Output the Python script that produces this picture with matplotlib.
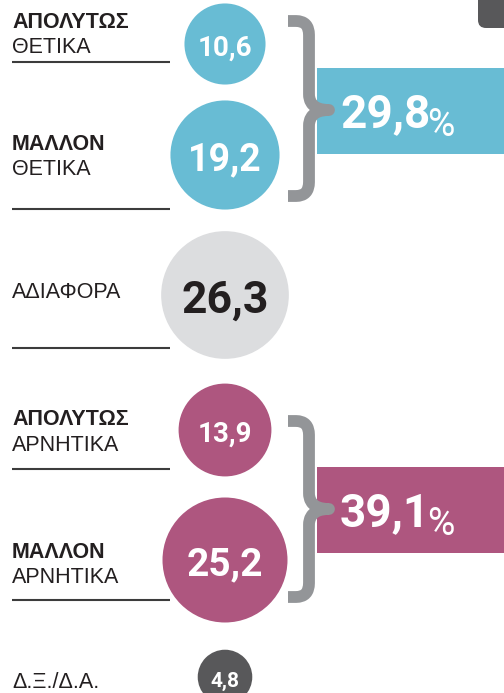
import numpy as np
import matplotlib
matplotlib.use("Agg")
import matplotlib.pyplot as plt
from matplotlib.patches import Circle, Rectangle, FancyBboxPatch, PathPatch
from matplotlib.path import Path

# data
labels_bold = ["ΑΠΟΛΥΤΩΣ", "ΜΑΛΛΟΝ", "", "ΑΠΟΛΥΤΩΣ", "ΜΑΛΛΟΝ", ""]
labels_rest = ["ΘΕΤΙΚΑ", "ΘΕΤΙΚΑ", "ΑΔΙΑΦΟΡΑ", "ΑΡΝΗΤΙΚΑ", "ΑΡΝΗΤΙΚΑ", "Δ.Ξ./Δ.Α."]
values = [10.6, 19.2, 26.3, 13.9, 25.2, 4.8]
group_totals = [29.8, 39.1]

BLUE = "#68bcd4"
MAGENTA = "#ae567f"
LIGHT = "#dcdddf"
DARK = "#58585a"
BRACE = "#939598"
INK = "#231f20"

circle_fill = [BLUE, BLUE, LIGHT, MAGENTA, MAGENTA, DARK]
num_color = ["white", "white", INK, "white", "white", "white"]
num_size = [20, 27, 32, 20, 28, 15]
cy = [44, 155, 295, 430, 560, 677]      # circle centres (px)
label_base = [(28, 53), (150, 175), (None, 298), (425, 451), (558, 583), (None, 688)]
rule_y = [62, 209, 348, 469, 600, None]
cx = 225
k = 155.0   # area scale, px^2 per percentage point

fig = plt.figure(figsize=(5.04, 6.93), dpi=100)
ax = fig.add_axes([0, 0, 1, 1])
ax.set_xlim(0, 504)
ax.set_ylim(693, 0)
ax.axis("off")

LAB = ["Liberation Sans", "DejaVu Sans"]
NUM = ["Roboto", "DejaVu Sans"]

def fmt(v):
    return "{:.1f}".format(v).replace(".", ",")

for i, v in enumerate(values):
    r = np.sqrt(v * k)
    ax.add_patch(Circle((cx, cy[i]), r, facecolor=circle_fill[i], edgecolor="none", zorder=2))
    cap = num_size[i] * 100 / 72 * 0.711
    ax.text(cx, cy[i] + cap / 2 + 2, fmt(v), ha="center", va="baseline",
            fontsize=num_size[i], fontweight="bold", color=num_color[i],
            family=NUM, zorder=3)

    b1, b2 = label_base[i]
    if labels_bold[i]:
        ax.text(12, b1, labels_bold[i], ha="left", va="baseline",
                fontsize=15.5, fontweight="bold", color=INK, family=LAB)
    ax.text(12, b2, labels_rest[i], ha="left", va="baseline",
            fontsize=15.5, color=INK, family=LAB)
    if rule_y[i] is not None:
        ax.plot([12, 170], [rule_y[i], rule_y[i]], color="#3c3c3c", lw=1.5,
                solid_capstyle="butt", zorder=1)


def brace(ytop, ybot, ymid):
    x0, xv, xt = 288, 309, 329
    verts = [(x0, ytop), (x0 + 8, ytop),
             (xv, ytop), (xv, ytop + 14),
             (xv, ymid - 16),
             (xv, ymid - 2), (xt - 8, ymid), (xt, ymid),
             (xt - 8, ymid), (xv, ymid + 2), (xv, ymid + 16),
             (xv, ybot - 14),
             (xv, ybot), (x0 + 8, ybot),
             (x0, ybot)]
    codes = [Path.MOVETO, Path.LINETO,
             Path.CURVE3, Path.CURVE3,
             Path.LINETO,
             Path.CURVE4, Path.CURVE4, Path.CURVE4,
             Path.CURVE4, Path.CURVE4, Path.CURVE4,
             Path.LINETO,
             Path.CURVE3, Path.CURVE3,
             Path.LINETO]
    ax.add_patch(PathPatch(Path(verts, codes), facecolor="none", edgecolor=BRACE,
                           lw=8.5, capstyle="butt", joinstyle="round", zorder=4))


band_y = [(68, 154), (467, 553)]
band_col = [BLUE, MAGENTA]
brace_y = [(21, 196), (421, 597)]
for g, tot in enumerate(group_totals):
    y0, y1 = band_y[g]
    ax.add_patch(Rectangle((317, y0), 504 - 317, y1 - y0, facecolor=band_col[g],
                           edgecolor="none", zorder=2))
    ym = (y0 + y1) / 2
    t = ax.text(340, ym + 16, fmt(tot), ha="left", va="baseline", fontsize=33,
                fontweight="bold", color="white", family=NUM, zorder=3)
    ax.annotate("%", xy=(1, 0), xycoords=t, xytext=(-3, 0), textcoords="offset pixels",
                ha="left", va="baseline", fontsize=27, color="white", family=NUM, zorder=3)
    brace(brace_y[g][0], brace_y[g][1], ym - 1)

# dark tab at top-right corner
ax.add_patch(FancyBboxPatch((478, -30), 60, 58, boxstyle="round,pad=0,rounding_size=8",
                            facecolor=DARK, edgecolor="none", zorder=2))

fig.savefig("out.png", dpi=100)
